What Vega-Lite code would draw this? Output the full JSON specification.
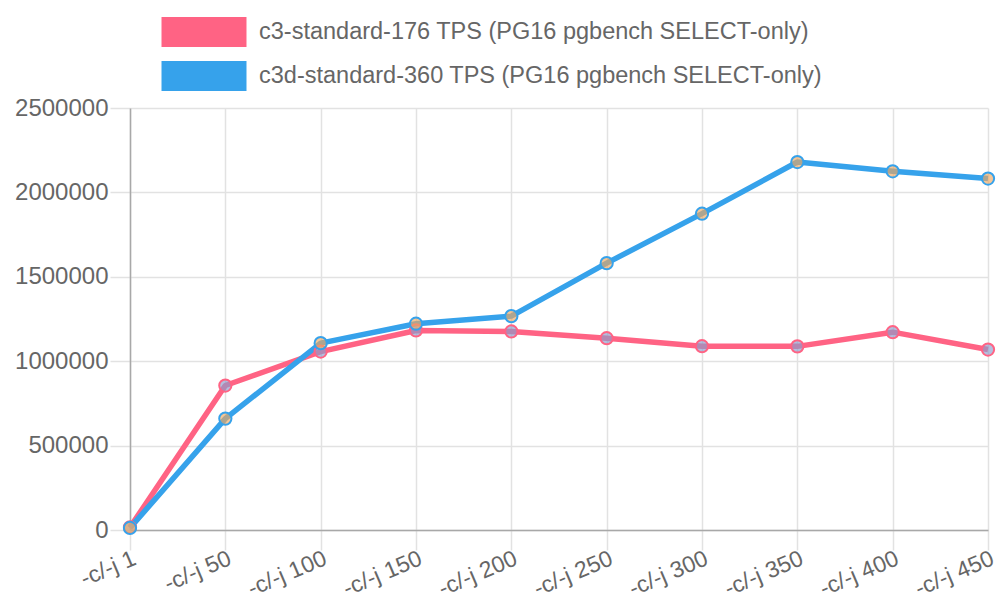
{
  "$schema": "https://vega.github.io/schema/vega-lite/v6.json",
  "autosize": {"type": "none"},
  "padding": {"left": 130, "top": 108, "right": 12, "bottom": 70},
  "width": 858,
  "height": 422,
  "background": "white",
  "config": {
    "font": "Liberation Sans",
    "view": {"stroke": null},
    "axis": {
      "labelFont": "Liberation Sans",
      "labelFontSize": 23,
      "labelColor": "#666666",
      "gridColor": "#e2e2e2",
      "gridWidth": 1.5,
      "tickColor": "#e2e2e2",
      "tickWidth": 1.5,
      "tickSize": 20,
      "domainColor": "#a8a8a8",
      "domainWidth": 1.5,
      "title": null
    }
  },
  "data": {
    "values": [
      {"conc": "-c/-j 1", "series": "c3-standard-176 TPS (PG16 pgbench SELECT-only)", "tps": 16000},
      {"conc": "-c/-j 50", "series": "c3-standard-176 TPS (PG16 pgbench SELECT-only)", "tps": 856000},
      {"conc": "-c/-j 100", "series": "c3-standard-176 TPS (PG16 pgbench SELECT-only)", "tps": 1057000},
      {"conc": "-c/-j 150", "series": "c3-standard-176 TPS (PG16 pgbench SELECT-only)", "tps": 1182000},
      {"conc": "-c/-j 200", "series": "c3-standard-176 TPS (PG16 pgbench SELECT-only)", "tps": 1176000},
      {"conc": "-c/-j 250", "series": "c3-standard-176 TPS (PG16 pgbench SELECT-only)", "tps": 1136000},
      {"conc": "-c/-j 300", "series": "c3-standard-176 TPS (PG16 pgbench SELECT-only)", "tps": 1089000},
      {"conc": "-c/-j 350", "series": "c3-standard-176 TPS (PG16 pgbench SELECT-only)", "tps": 1088000},
      {"conc": "-c/-j 400", "series": "c3-standard-176 TPS (PG16 pgbench SELECT-only)", "tps": 1172000},
      {"conc": "-c/-j 450", "series": "c3-standard-176 TPS (PG16 pgbench SELECT-only)", "tps": 1069000},
      {"conc": "-c/-j 1", "series": "c3d-standard-360 TPS (PG16 pgbench SELECT-only)", "tps": 12000},
      {"conc": "-c/-j 50", "series": "c3d-standard-360 TPS (PG16 pgbench SELECT-only)", "tps": 660000},
      {"conc": "-c/-j 100", "series": "c3d-standard-360 TPS (PG16 pgbench SELECT-only)", "tps": 1107000},
      {"conc": "-c/-j 150", "series": "c3d-standard-360 TPS (PG16 pgbench SELECT-only)", "tps": 1222000},
      {"conc": "-c/-j 200", "series": "c3d-standard-360 TPS (PG16 pgbench SELECT-only)", "tps": 1267000},
      {"conc": "-c/-j 250", "series": "c3d-standard-360 TPS (PG16 pgbench SELECT-only)", "tps": 1581000},
      {"conc": "-c/-j 300", "series": "c3d-standard-360 TPS (PG16 pgbench SELECT-only)", "tps": 1874000},
      {"conc": "-c/-j 350", "series": "c3d-standard-360 TPS (PG16 pgbench SELECT-only)", "tps": 2180000},
      {"conc": "-c/-j 400", "series": "c3d-standard-360 TPS (PG16 pgbench SELECT-only)", "tps": 2125000},
      {"conc": "-c/-j 450", "series": "c3d-standard-360 TPS (PG16 pgbench SELECT-only)", "tps": 2082000}
    ]
  },
  "encoding": {
    "x": {
      "field": "conc",
      "type": "ordinal",
      "sort": null,
      "scale": {"type": "point", "padding": 0},
      "axis": {
        "labelAngle": -23,
        "labelAlign": "right",
        "labelBaseline": "top",
        "labelPadding": -3,
        "grid": true
      }
    },
    "y": {
      "field": "tps",
      "type": "quantitative",
      "scale": {"domain": [0, 2500000], "nice": false},
      "axis": {
        "values": [0, 500000, 1000000, 1500000, 2000000, 2500000],
        "format": "d",
        "labelFontSize": 24,
        "labelPadding": 2,
        "grid": true
      }
    }
  },
  "layer": [
    {
      "mark": {"type": "line", "strokeWidth": 5.5, "strokeJoin": "round"},
      "encoding": {
        "color": {
          "field": "series",
          "type": "nominal",
          "scale": {
            "domain": ["c3-standard-176 TPS (PG16 pgbench SELECT-only)", "c3d-standard-360 TPS (PG16 pgbench SELECT-only)"],
            "range": ["#ff6384", "#36a2eb"]
          },
          "legend": {
            "title": null,
            "orient": "none",
            "legendX": 59,
            "legendY": -91,
            "direction": "vertical",
            "symbolType": "M-2.833,-1H2.833V1H-2.833Z",
            "symbolSize": 900,
            "symbolStrokeWidth": 0,
            "labelOffset": 40,
            "labelFontSize": 23.5,
            "labelFont": "Liberation Sans",
            "labelColor": "#666666",
            "labelLimit": 800,
            "rowPadding": 14,
            "encode": {
              "symbols": {
                "update": {
                  "fill": [
                    {"test": "indexof(datum.value, 'c3d') === 0", "value": "#36a2eb"},
                    {"value": "#ff6384"}
                  ],
                  "fillOpacity": {"value": 1},
                  "strokeWidth": {"value": 0}
                }
              }
            }
          }
        }
      }
    },
    {
      "mark": {"type": "point", "filled": true, "size": 150, "strokeWidth": 2, "opacity": 1, "fillOpacity": 0.65},
      "encoding": {
        "stroke": {
          "condition": {"test": "indexof(datum.series, 'c3d') === 0", "value": "#36a2eb"},
          "value": "#ff6384"
        },
        "fill": {
          "condition": {"test": "indexof(datum.series, 'c3d') === 0", "value": "#f0a860"},
          "value": "#8a9ccc"
        }
      }
    }
  ]
}
